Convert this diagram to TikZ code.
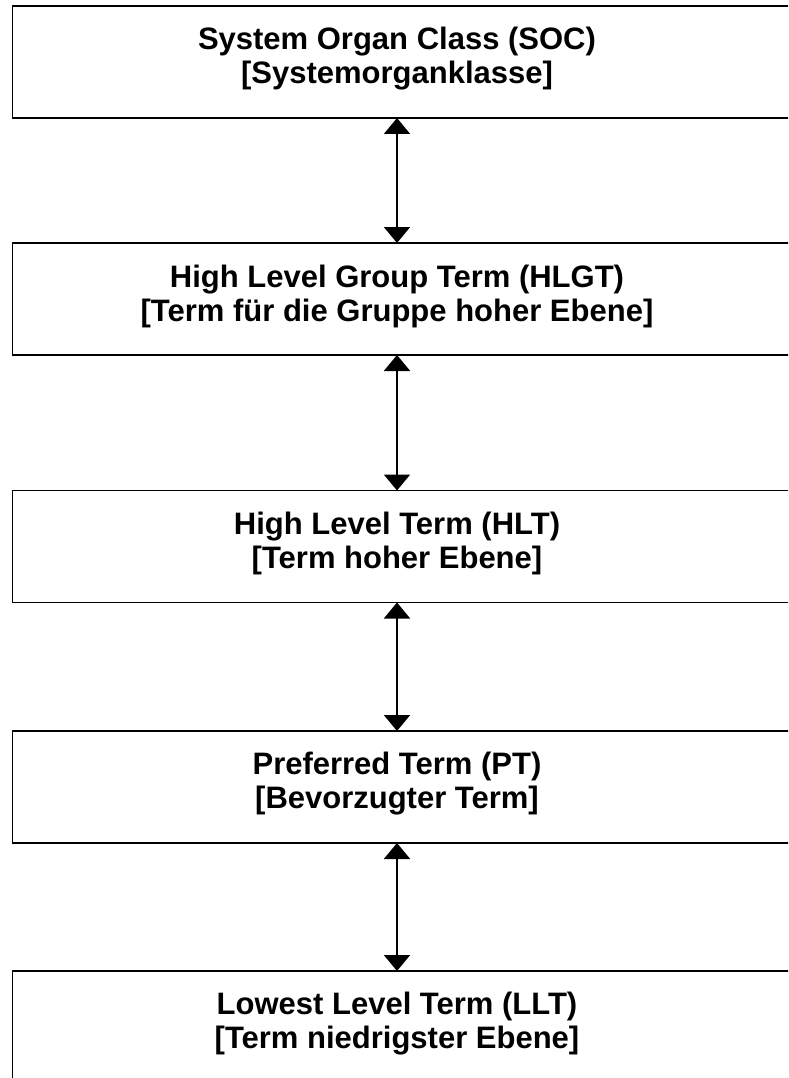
\documentclass[tikz,border=0pt]{standalone}
\usepackage{fontspec}
\setmainfont{Liberation Sans}
\usetikzlibrary{arrows.meta}
\begin{document}
\begin{tikzpicture}[x=1pt,y=-1pt,
  levelbox/.style={draw=black, line width=1.5pt, rectangle, anchor=north west,
    minimum width=800pt, minimum height=112pt, inner sep=0pt, outer sep=0pt},
  leveltext/.style={align=center, font=\fontsize{31}{34}\selectfont\bfseries, inner sep=0pt},
  link/.style={line width=2pt, {Triangle[width=26pt,length=16pt]}-{Triangle[width=26pt,length=16pt]}}]
\useasboundingbox (0,0) rectangle (788,1078);
\clip (0,0) rectangle (788,1078);
\fill[white] (0,0) rectangle (788,1078);
% boxes
\node[levelbox] (soc)  at (12.7,6)     {};
\node[levelbox] (hlgt) at (12.7,243)   {};
\node[levelbox] (hlt)  at (12.7,490.5) {};
\node[levelbox] (pt)   at (12.7,731)   {};
\node[levelbox] (llt)  at (12.7,971)   {};
% texts
\node[leveltext] (tsoc)  at (397,59)    {System Organ Class (SOC)\\{}[Systemorganklasse]};
\node[leveltext] (thlgt) at (397,296)   {High Level Group Term (HLGT)\\{}[Term für die Gruppe hoher Ebene]};
\node[leveltext] (thlt)  at (397,543.5) {High Level Term (HLT)\\{}[Term hoher Ebene]};
\node[leveltext] (tpt)   at (397,784)   {Preferred Term (PT)\\{}[Bevorzugter Term]};
\node[leveltext] (tllt)  at (397,1024)  {Lowest Level Term (LLT)\\{}[Term niedrigster Ebene]};
% connectors
\draw[link] (soc.south -| tsoc)  -- (hlgt.north -| tsoc);
\draw[link] (hlgt.south -| tsoc) -- (hlt.north -| tsoc);
\draw[link] (hlt.south -| tsoc)  -- (pt.north -| tsoc);
\draw[link] (pt.south -| tsoc)   -- (llt.north -| tsoc);
\end{tikzpicture}
\end{document}
